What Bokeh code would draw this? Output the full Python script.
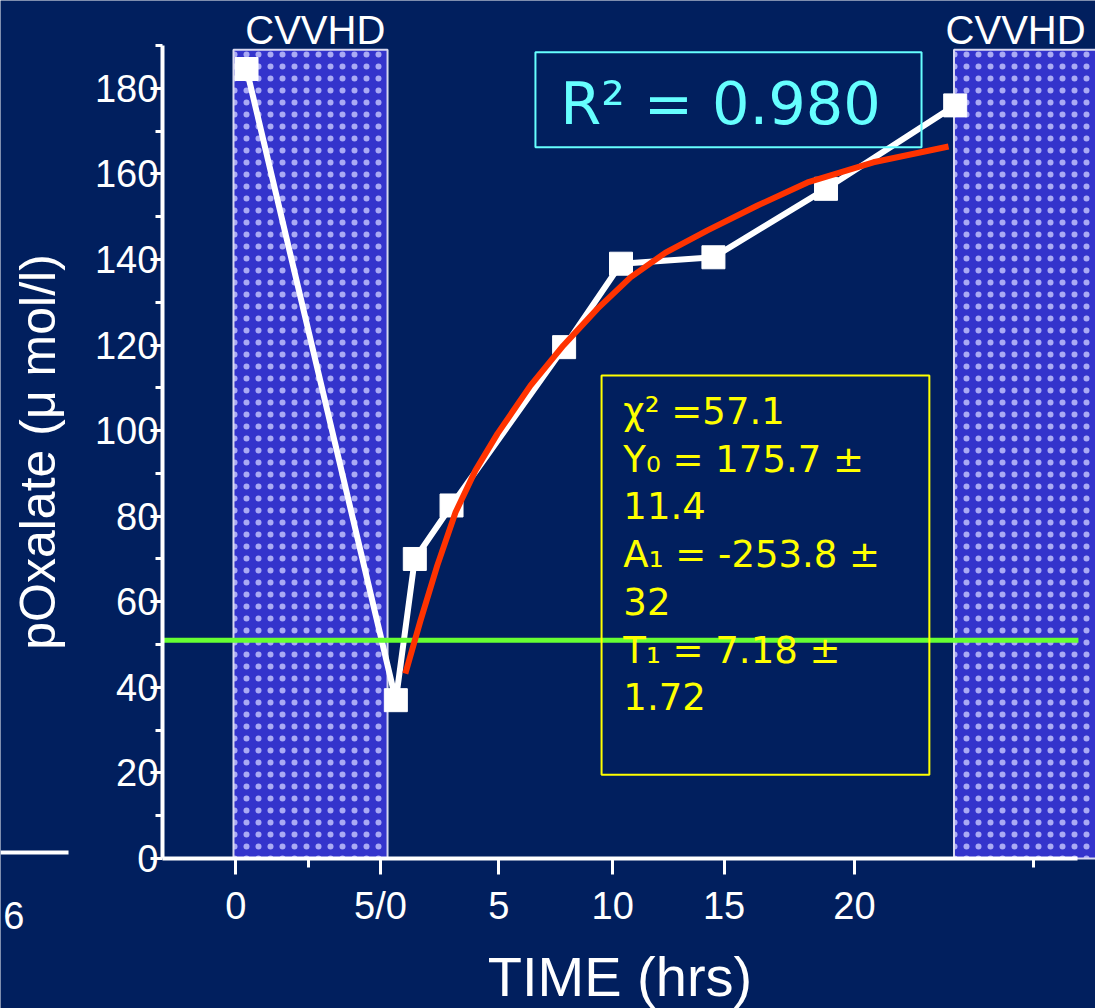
from bokeh.plotting import figure
from bokeh.models import Range1d, FixedTicker, Label, BoxAnnotation
from bokeh.core.properties import value
from bokeh.embed import file_html
from bokeh.resources import INLINE

# Plasma oxalate measured across two CVVHD sessions (hours after first session)
time_h = [-5.65, 0.65, 1.45, 3.0, 7.75, 10.15, 14.05, 18.8, 24.25]
oxalate = [184.5, 37.0, 70.0, 82.5, 119.5, 139.0, 140.5, 156.5, 176.0]

# exponential rebound fit, sampled along the fitted curve
fit_time_h = [1.05, 1.69, 2.4, 3.17, 4.01, 4.94, 6.33, 7.72, 9.16, 10.55,
              12.03, 13.8, 15.91, 18.02, 20.8, 23.97]
fit_oxalate = [43.2, 55.6, 68.5, 80.9, 90.7, 99.3, 110.5, 119.9, 128.5, 135.8,
               141.6, 146.8, 152.6, 158.0, 162.7, 166.4]

# CVVHD treatment windows
cvvhd_start = [-6.2, 24.2]
cvvhd_end = [0.3, 31.0]

# reference level
threshold = 51
threshold_span = [-9.2, 29.45]

x_tick_pos = [-6.1, 0, 5, 9.8, 14.5, 20]
x_tick_labels = ["0", "5/0", "5", "10", "15", "20"]
x_minor_pos = [-3.05, 27.55]

y_tick_pos = [0, 20, 40, 60, 80, 100, 120, 140, 160, 180]
y_minor_pos = [10, 30, 50, 70, 90, 110, 130, 150, 170, 190]

fit_stats = "χ² =57.1\nY₀ = 175.7 ±\n11.4\nA₁ = -253.8 ±\n32\nT₁ = 7.18 ±\n1.72"

NAVY = "#011f5e"
SANS = "Liberation Sans"

X0 = -9.2   # where the time axis starts (and the value axis sits)

# plotting area fills the page; axes are pinned inside it
p = figure(width=1095, height=1008, output_backend="svg", toolbar_location=None,
           x_range=Range1d(-16.03, 30.17), y_range=Range1d(-35.05, 200.51),
           min_border_left=0, min_border_right=0, min_border_top=0, min_border_bottom=0,
           background_fill_color=NAVY, border_fill_color=NAVY, outline_line_color=None)
p.grid.visible = False

# axes
for ax in (p.xaxis[0], p.yaxis[0]):
    ax.axis_line_color = "white"
    ax.axis_line_width = 4
    ax.major_tick_line_color = "white"
    ax.major_tick_line_width = 3
    ax.minor_tick_line_color = "white"
    ax.minor_tick_line_width = 3
    ax.major_tick_in = 0
    ax.minor_tick_in = 0
    ax.major_label_text_color = "white"
    ax.major_label_text_font = SANS
    ax.major_label_text_font_size = "38px"
    ax.axis_label_text_color = "white"
    ax.axis_label_text_font = SANS
    ax.axis_label_text_font_style = "normal"

xa = p.xaxis[0]
xa.fixed_location = 0
xa.bounds = (X0, 29.4)
xa.ticker = FixedTicker(ticks=x_tick_pos, minor_ticks=x_minor_pos)
xa.major_label_overrides = dict(zip(x_tick_pos, x_tick_labels))
xa.major_tick_out = 16
xa.minor_tick_out = 9
xa.major_label_standoff = 10
xa.axis_label = "TIME (hrs)"
xa.axis_label_text_font_size = "56px"
xa.axis_label_standoff = 15

ya = p.yaxis[0]
ya.fixed_location = X0
ya.bounds = (0, 190)
ya.ticker = FixedTicker(ticks=y_tick_pos, minor_ticks=y_minor_pos)
ya.major_tick_out = 12
ya.minor_tick_out = 7
ya.major_label_standoff = -8
ya.axis_label = "pOxalate (μ mol/l)"
ya.axis_label_text_font_size = "50px"
ya.axis_label_standoff = 26

# CVVHD windows, dotted fill
p.quad(left=cvvhd_start, right=cvvhd_end, bottom=0, top=189,
       fill_color="#3434cc", line_color="#d8d8f0", line_width=2,
       hatch_pattern="dot", hatch_color="#c8c8ff", hatch_alpha=0.8,
       hatch_scale=12, hatch_weight=1)

# measured values
p.line(time_h, oxalate, line_color="white", line_width=6)
p.scatter(time_h, oxalate, marker="square", size=23, fill_color="white", line_color="white")

# reference level and fitted curve
p.line(threshold_span, [threshold, threshold], line_color="#66ff33", line_width=5)
p.line(fit_time_h, fit_oxalate, line_color="#ff3300", line_width=6, line_join="round")

# session labels
for lx in (-2.75, 26.8):
    p.add_layout(Label(x=lx, y=198.8, text="CVVHD", text_align="center", text_baseline="top",
                       text_font=SANS, text_font_size="40px", text_color="white"))

# goodness of fit
p.add_layout(BoxAnnotation(left=6.54, right=22.83, bottom=166.2, top=188.4,
                           fill_color=None, line_color="#66ffff", line_alpha=1.0, line_width=2))
p.add_layout(Label(x=7.59, y=184.55, text="R² = 0.980", text_baseline="top",
                   text_font="DejaVu Sans", text_font_size="59px", text_color="#66ffff"))

# fit parameters
p.add_layout(BoxAnnotation(left=9.33, right=23.16, bottom=19.6, top=112.9,
                           fill_color=None, line_color="#ffff00", line_alpha=1.0, line_width=2))
p.add_layout(Label(x=10.25, y=109.5, text=fit_stats, text_baseline="top", text_align="left",
                   text_font="DejaVu Sans", text_font_size="37px", text_color="#ffff00",
                   text_line_height=1.11))

# edge of the neighbouring panel: its baseline and last tick label
p.segment(x0=[-16.03], y0=[1.4], x1=[-13.16], y1=[1.4], line_color="white", line_width=4)
p.text(x=[-15.02], y=[-13.3], text=["6"], text_align="right", text_baseline="alphabetic",
       text_font=value(SANS), text_font_size="38px", text_color="white")

open("out.html", "w").write(file_html(p, INLINE))
